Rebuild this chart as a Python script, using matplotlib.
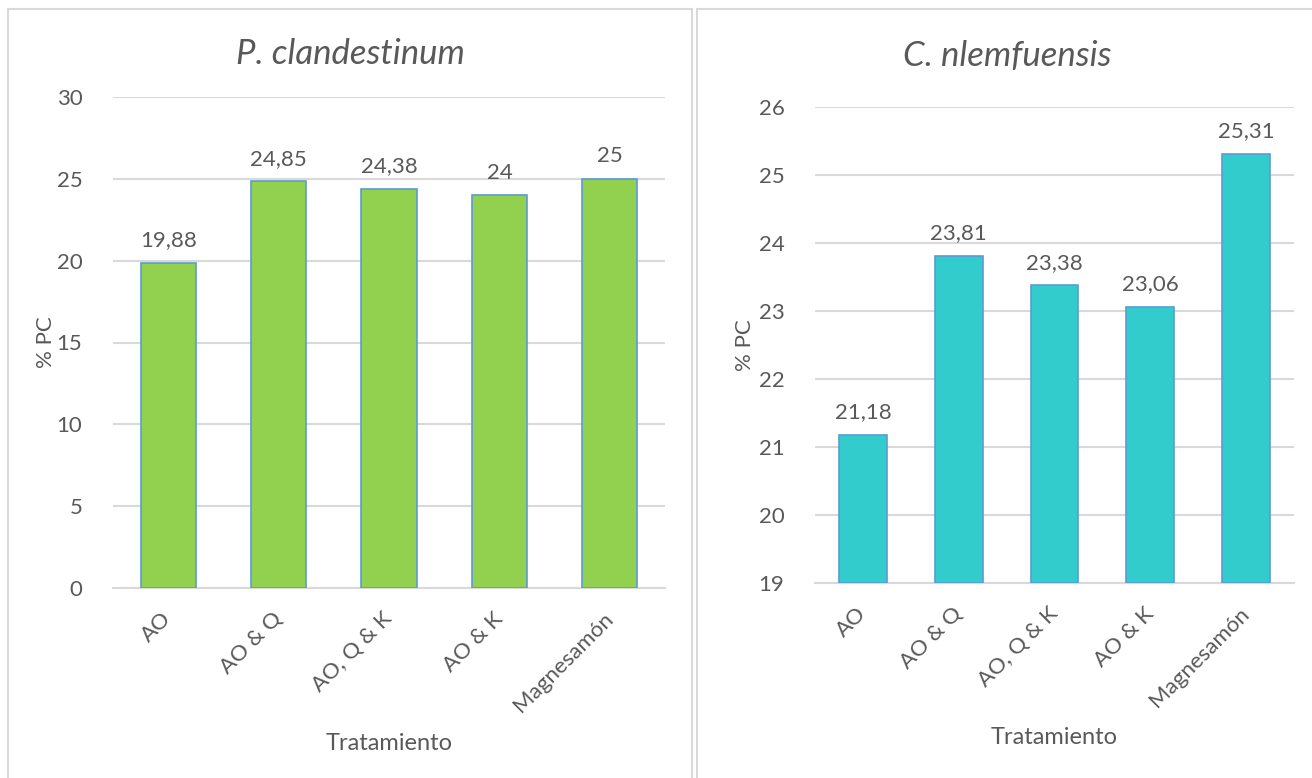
import matplotlib.pyplot as plt
from matplotlib.patches import Rectangle

# Data
tratamientos = ["AO", "AO & Q", "AO, Q & K", "AO & K", "Magnesamón"]
pc_clandestinum = [19.88, 24.85, 24.38, 24.00, 25.00]
pc_nlemfuensis = [21.18, 23.81, 23.38, 23.06, 25.31]

TEXT = "#595959"
GRID = "#D9D9D9"
EDGE = "#5B9BD5"

plt.rcParams["font.family"] = ["Lato", "DejaVu Sans"]

W, H = 1312, 778
fig = plt.figure(figsize=(W / 100, H / 100), dpi=100)


def px(x0, y0, x1, y1):
    # pixel box (top-left origin) -> figure fraction [left, bottom, width, height]
    return [x0 / W, 1 - y1 / H, (x1 - x0) / W, (y1 - y0) / H]


def fmt(v):
    s = f"{v:.2f}".rstrip("0").rstrip(".")
    return s.replace(".", ",")


def draw_panel(box, values, color, ylim, step, title, title_xy, ylabel_xy, xlabel_y):
    ax = fig.add_axes(px(*box))
    x = range(len(tratamientos))
    bars = ax.bar(x, [v - ylim[0] for v in values], bottom=ylim[0], width=0.5,
                  color=color, edgecolor=EDGE, linewidth=1.2, zorder=3)
    ax.set_xlim(-0.5, len(tratamientos) - 0.5)
    ax.set_ylim(*ylim)
    ax.set_yticks(range(ylim[0], ylim[1] + 1, step))
    ax.grid(axis="y", color=GRID, linewidth=1.5, zorder=0)
    for s in ["top", "right", "left"]:
        ax.spines[s].set_visible(False)
    ax.spines["bottom"].set_color(GRID)
    ax.spines["bottom"].set_linewidth(1.5)
    ax.tick_params(length=0, colors=TEXT, labelsize=16)
    ax.tick_params(axis="y", pad=22)
    ax.set_xticks(list(x))
    ax.set_xticklabels(tratamientos, rotation=45, ha="right", va="center",
                       rotation_mode="anchor")
    ax.tick_params(axis="x", pad=20)

    for b, v in zip(bars, values):
        ax.annotate(fmt(v), (b.get_x() + b.get_width() / 2, v),
                    xytext=(0, 9), textcoords="offset points",
                    ha="center", va="bottom", color=TEXT, fontsize=16)

    fig.text(title_xy[0] / W, 1 - title_xy[1] / H, title, ha="center", va="center",
             fontsize=25, style="italic", color=TEXT)
    fig.text(ylabel_xy[0] / W, 1 - ylabel_xy[1] / H, "% PC", rotation=90,
             ha="center", va="center", fontsize=16, color=TEXT)
    fig.text((box[0] + box[2]) / 2 / W, 1 - xlabel_y / H, "Tratamiento",
             ha="center", va="center", fontsize=17, color=TEXT)
    return ax


draw_panel((113, 97, 665, 588), pc_clandestinum, "#92D050", (0, 30), 5,
           "P. clandestinum", (350, 54), (46, 342), 743)
draw_panel((815, 107, 1294, 583), pc_nlemfuensis, "#33CCCC", (19, 26), 1,
           "C. nlemfuensis", (1007, 56), (745, 345), 738)

# chart area borders
fig.patches.append(Rectangle((8 / W, -0.1), (692 - 8) / W, 1.1 - 9 / H,
                             transform=fig.transFigure, fill=False,
                             edgecolor=GRID, linewidth=1.5))
fig.patches.append(Rectangle((697 / W, -0.1), 1.1 - 697 / W, 1.1 - 9 / H,
                             transform=fig.transFigure, fill=False,
                             edgecolor=GRID, linewidth=1.5))

fig.savefig("out.png", dpi=100, facecolor="white")
